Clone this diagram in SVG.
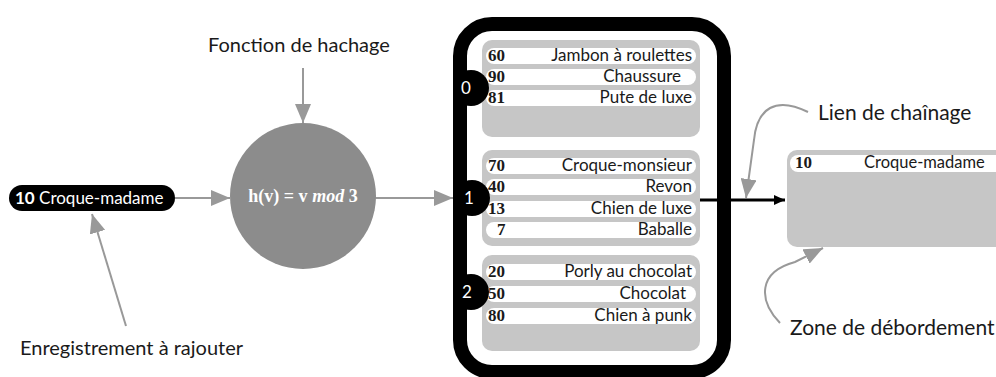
<svg xmlns="http://www.w3.org/2000/svg" width="996" height="377" viewBox="0 0 996 377">
  <defs>
    <style>
      .lbl { font-family: "Lato", "Open Sans", "Liberation Sans", sans-serif; font-size: 20px; fill: #1a1a1a; }
      .lbl-r { font-size: 21px; }
      .val { font-family: "Lato", "Open Sans", "Liberation Sans", sans-serif; font-size: 17px; fill: #1a1a1a; text-anchor: end; }
      .ovf { font-family: "Lato", "Open Sans", "Liberation Sans", sans-serif; font-size: 16.5px; fill: #1a1a1a; }
      .key { font-family: "Liberation Serif", "DejaVu Serif", serif; font-size: 17px; font-weight: bold; fill: #1a1a1a; }
      .panel { fill: #c6c6c6; }
      .pill { fill: #ffffff; }
      .gray { fill: none; stroke: #999999; stroke-width: 2; }
      .idx { font-family: "Lato", "Open Sans", "Liberation Sans", sans-serif; font-size: 17px; fill: #ffffff; text-anchor: middle; }
    </style>
    <marker id="grayHead" markerUnits="userSpaceOnUse" markerWidth="20" markerHeight="16" refX="19" refY="8" orient="auto">
      <path d="M0,0 L19,8 L0,16 Z" fill="#999999"/>
    </marker>
    <marker id="blackHead" markerUnits="userSpaceOnUse" markerWidth="12" markerHeight="10" refX="11" refY="5" orient="auto">
      <path d="M0,0 L11,5 L0,10 Z" fill="#000000"/>
    </marker>
  </defs>

  <rect width="996" height="377" fill="#ffffff"/>

  <!-- connectors -->
  <g id="connectors">
    <line class="gray" x1="303" y1="68" x2="303" y2="123" marker-end="url(#grayHead)"/>
    <line class="gray" x1="175" y1="198" x2="230" y2="198" marker-end="url(#grayHead)"/>
    <line class="gray" x1="375" y1="198" x2="453" y2="198" marker-end="url(#grayHead)"/>
    <line class="gray" x1="126" y1="326" x2="92" y2="214" marker-end="url(#grayHead)"/>
    <path class="gray" d="M808 112 C776 96 757 108 754 140 L746 198" marker-end="url(#grayHead)"/>
    <path class="gray" d="M780 323 C758 300 758 272 795 262 L823 248" marker-end="url(#grayHead)"/>
    <line x1="697" y1="200" x2="785" y2="200" stroke="#000000" stroke-width="3" marker-end="url(#blackHead)"/>
  </g>

  <!-- record to insert -->
  <g id="record">
    <rect x="9" y="185" width="166" height="26" rx="13" fill="#000000"/>
    <text x="15" y="204" font-family="Lato, 'Open Sans', 'Liberation Sans', sans-serif" font-size="17" fill="#ffffff"><tspan font-weight="bold">10</tspan> Croque-madame</text>
  </g>

  <!-- hash function -->
  <g id="hash">
    <circle cx="303" cy="196" r="73" fill="#8c8c8c"/>
    <text x="303" y="202" text-anchor="middle" font-family="'Liberation Serif', 'DejaVu Serif', serif" font-size="18" font-weight="bold" fill="#ffffff">h(v) = v <tspan font-style="italic">mod</tspan> 3</text>
  </g>

  <!-- hash table -->
  <g id="table">
    <rect x="460" y="24" width="264" height="348" rx="32" fill="none" stroke="#000000" stroke-width="14"/>

    <g id="bucket0">
      <rect class="panel" x="482" y="40" width="218" height="97" rx="10"/>
      <rect class="pill" x="486" y="48" width="210" height="16" rx="8"/>
      <rect class="pill" x="486" y="69" width="210" height="16" rx="8"/>
      <rect class="pill" x="486" y="90" width="210" height="16" rx="8"/>
      <text class="key" x="488" y="61">60</text><text class="val" x="692" y="61">Jambon à roulettes</text>
      <text class="key" x="488" y="82">90</text><text class="val" x="681" y="82">Chaussure</text>
      <text class="key" x="488" y="103">81</text><text class="val" x="692" y="103">Pute de luxe</text>
      <circle cx="471" cy="88" r="18" fill="#000000"/>
      <text class="idx" x="466" y="94">0</text>
    </g>

    <g id="bucket1">
      <rect class="panel" x="482" y="150" width="218" height="96" rx="10"/>
      <rect class="pill" x="486" y="158" width="210" height="16" rx="8"/>
      <rect class="pill" x="486" y="179" width="210" height="16" rx="8"/>
      <rect class="pill" x="486" y="201" width="210" height="16" rx="8"/>
      <rect class="pill" x="486" y="222" width="210" height="16" rx="8"/>
      <text class="key" x="488" y="171">70</text><text class="val" x="692" y="171">Croque-monsieur</text>
      <text class="key" x="488" y="192">40</text><text class="val" x="692" y="192">Revon</text>
      <text class="key" x="488" y="214">13</text><text class="val" x="692" y="214">Chien de luxe</text>
      <text class="key" x="497" y="235">7</text><text class="val" x="692" y="235">Baballe</text>
      <circle cx="472" cy="198" r="18" fill="#000000"/>
      <text class="idx" x="469" y="204">1</text>
    </g>

    <g id="bucket2">
      <rect class="panel" x="482" y="255" width="218" height="96" rx="10"/>
      <rect class="pill" x="486" y="264" width="210" height="16" rx="8"/>
      <rect class="pill" x="486" y="286" width="210" height="16" rx="8"/>
      <rect class="pill" x="486" y="308" width="210" height="16" rx="8"/>
      <text class="key" x="488" y="277">20</text><text class="val" x="692" y="277">Porly au chocolat</text>
      <text class="key" x="488" y="299">50</text><text class="val" x="686" y="299">Chocolat</text>
      <text class="key" x="488" y="321">80</text><text class="val" x="692" y="321">Chien à punk</text>
      <circle cx="471" cy="292" r="18" fill="#000000"/>
      <text class="idx" x="467" y="298">2</text>
    </g>
  </g>

  <!-- overflow area -->
  <g id="overflow">
    <rect class="panel" x="787" y="150" width="230" height="97" rx="10"/>
    <rect class="pill" x="790" y="155" width="220" height="17" rx="8"/>
    <text class="key" x="795" y="168">10</text>
    <text class="ovf" x="864" y="168">Croque-madame</text>
  </g>

  <!-- annotations -->
  <g id="annotations">
    <text class="lbl" x="208" y="52">Fonction de hachage</text>
    <text class="lbl" x="20" y="355">Enregistrement à rajouter</text>
    <text class="lbl lbl-r" x="818" y="120">Lien de chaînage</text>
    <text class="lbl lbl-r" x="790" y="335">Zone de débordement</text>
  </g>
</svg>
